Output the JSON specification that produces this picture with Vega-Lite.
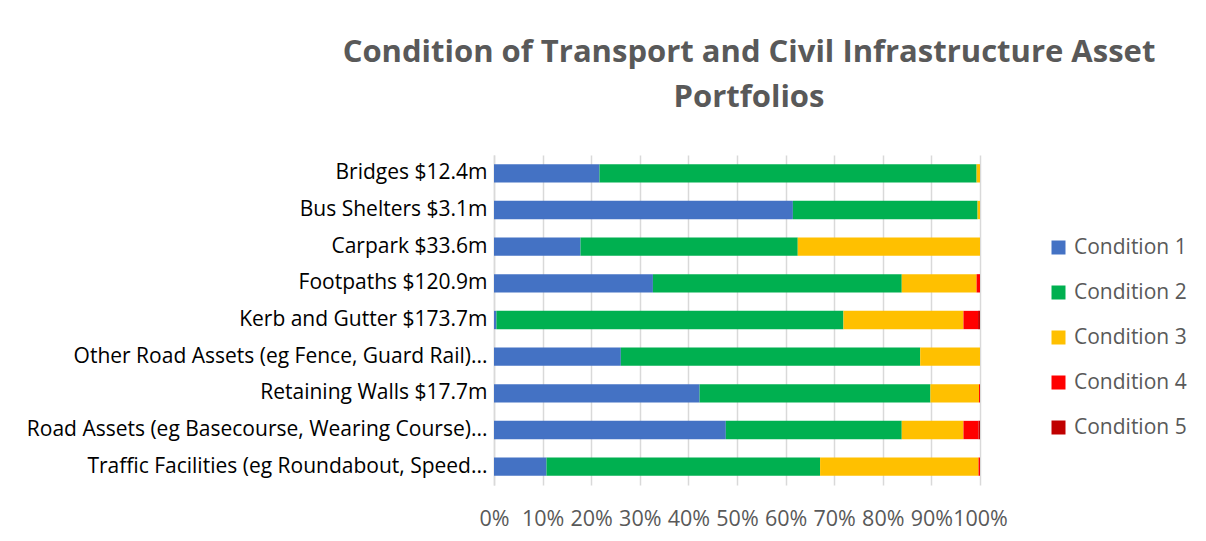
{
  "$schema": "https://vega.github.io/schema/vega-lite/v6.json",
  "width": 486,
  "height": 330,
  "autosize": {"type": "none"},
  "padding": {"left": 494, "top": 155, "right": 226, "bottom": 56},
  "background": "white",
  "config": {"font": "Open Sans", "view": {"stroke": null}},
  "title": {
    "text": ["Condition of Transport and Civil Infrastructure Asset", "Portfolios"],
    "fontSize": 31,
    "fontWeight": "bold",
    "color": "#595959",
    "anchor": "middle",
    "lineHeight": 45,
    "offset": 41,
    "dx": 12
  },
  "data": {
    "values": [
      {"asset": "Bridges $12.4m", "condition": "Condition 1", "value": 21.7},
      {"asset": "Bridges $12.4m", "condition": "Condition 2", "value": 77.6},
      {"asset": "Bridges $12.4m", "condition": "Condition 3", "value": 0.7},
      {"asset": "Bridges $12.4m", "condition": "Condition 4", "value": 0},
      {"asset": "Bridges $12.4m", "condition": "Condition 5", "value": 0},
      {"asset": "Bus Shelters $3.1m", "condition": "Condition 1", "value": 61.5},
      {"asset": "Bus Shelters $3.1m", "condition": "Condition 2", "value": 38.0},
      {"asset": "Bus Shelters $3.1m", "condition": "Condition 3", "value": 0.5},
      {"asset": "Bus Shelters $3.1m", "condition": "Condition 4", "value": 0},
      {"asset": "Bus Shelters $3.1m", "condition": "Condition 5", "value": 0},
      {"asset": "Carpark $33.6m", "condition": "Condition 1", "value": 17.8},
      {"asset": "Carpark $33.6m", "condition": "Condition 2", "value": 44.7},
      {"asset": "Carpark $33.6m", "condition": "Condition 3", "value": 37.5},
      {"asset": "Carpark $33.6m", "condition": "Condition 4", "value": 0},
      {"asset": "Carpark $33.6m", "condition": "Condition 5", "value": 0},
      {"asset": "Footpaths $120.9m", "condition": "Condition 1", "value": 32.7},
      {"asset": "Footpaths $120.9m", "condition": "Condition 2", "value": 51.2},
      {"asset": "Footpaths $120.9m", "condition": "Condition 3", "value": 15.4},
      {"asset": "Footpaths $120.9m", "condition": "Condition 4", "value": 0.7},
      {"asset": "Footpaths $120.9m", "condition": "Condition 5", "value": 0},
      {"asset": "Kerb and Gutter $173.7m", "condition": "Condition 1", "value": 0.5},
      {"asset": "Kerb and Gutter $173.7m", "condition": "Condition 2", "value": 71.4},
      {"asset": "Kerb and Gutter $173.7m", "condition": "Condition 3", "value": 24.7},
      {"asset": "Kerb and Gutter $173.7m", "condition": "Condition 4", "value": 3.0},
      {"asset": "Kerb and Gutter $173.7m", "condition": "Condition 5", "value": 0.4},
      {"asset": "Other Road Assets (eg Fence, Guard Rail)...", "condition": "Condition 1", "value": 26.1},
      {"asset": "Other Road Assets (eg Fence, Guard Rail)...", "condition": "Condition 2", "value": 61.6},
      {"asset": "Other Road Assets (eg Fence, Guard Rail)...", "condition": "Condition 3", "value": 12.3},
      {"asset": "Other Road Assets (eg Fence, Guard Rail)...", "condition": "Condition 4", "value": 0},
      {"asset": "Other Road Assets (eg Fence, Guard Rail)...", "condition": "Condition 5", "value": 0},
      {"asset": "Retaining Walls $17.7m", "condition": "Condition 1", "value": 42.3},
      {"asset": "Retaining Walls $17.7m", "condition": "Condition 2", "value": 47.5},
      {"asset": "Retaining Walls $17.7m", "condition": "Condition 3", "value": 10.0},
      {"asset": "Retaining Walls $17.7m", "condition": "Condition 4", "value": 0.2},
      {"asset": "Retaining Walls $17.7m", "condition": "Condition 5", "value": 0},
      {"asset": "Road Assets (eg Basecourse, Wearing Course)...", "condition": "Condition 1", "value": 47.7},
      {"asset": "Road Assets (eg Basecourse, Wearing Course)...", "condition": "Condition 2", "value": 36.2},
      {"asset": "Road Assets (eg Basecourse, Wearing Course)...", "condition": "Condition 3", "value": 12.7},
      {"asset": "Road Assets (eg Basecourse, Wearing Course)...", "condition": "Condition 4", "value": 3.1},
      {"asset": "Road Assets (eg Basecourse, Wearing Course)...", "condition": "Condition 5", "value": 0.3},
      {"asset": "Traffic Facilities (eg Roundabout, Speed...", "condition": "Condition 1", "value": 10.8},
      {"asset": "Traffic Facilities (eg Roundabout, Speed...", "condition": "Condition 2", "value": 56.3},
      {"asset": "Traffic Facilities (eg Roundabout, Speed...", "condition": "Condition 3", "value": 32.6},
      {"asset": "Traffic Facilities (eg Roundabout, Speed...", "condition": "Condition 4", "value": 0.3},
      {"asset": "Traffic Facilities (eg Roundabout, Speed...", "condition": "Condition 5", "value": 0}
    ]
  },
  "mark": {"type": "bar"},
  "encoding": {
    "y": {
      "field": "asset",
      "type": "nominal",
      "sort": null,
      "scale": {"paddingInner": 0.5, "paddingOuter": 0.25},
      "axis": {
        "title": null,
        "labelFontSize": 21,
        "labelColor": "#000000",
        "labelLimit": 0,
        "labelPadding": 7,
        "ticks": false,
        "domainColor": "#d9d9d9",
        "domainWidth": 1.5
      }
    },
    "x": {
      "field": "value",
      "type": "quantitative",
      "aggregate": "sum",
      "stack": "normalize",
      "scale": {"domain": [0, 1], "nice": false},
      "axis": {
        "title": null,
        "format": ".0%",
        "values": [0, 0.1, 0.2, 0.3, 0.4, 0.5, 0.6, 0.7, 0.8, 0.9, 1],
        "labelFontSize": 21.5,
        "labelColor": "#595959",
        "labelPadding": 23,
        "labelFlush": false,
        "labelOverlap": false,
        "domain": false,
        "ticks": false,
        "gridColor": "#d9d9d9",
        "gridWidth": 1.5
      }
    },
    "color": {
      "field": "condition",
      "type": "nominal",
      "scale": {
        "domain": ["Condition 1", "Condition 2", "Condition 3", "Condition 4", "Condition 5"],
        "range": ["#4472C4", "#00B050", "#FFC000", "#FF0000", "#C00000"]
      },
      "legend": {
        "title": null,
        "orient": "none",
        "legendX": 554,
        "legendY": 82,
        "symbolType": "square",
        "symbolSize": 196,
        "symbolStrokeWidth": 0,
        "symbolOpacity": 1,
        "labelFontSize": 21,
        "labelColor": "#595959",
        "labelOffset": 5,
        "rowPadding": 23
      }
    },
    "order": {"field": "condition", "sort": "ascending"}
  }
}
